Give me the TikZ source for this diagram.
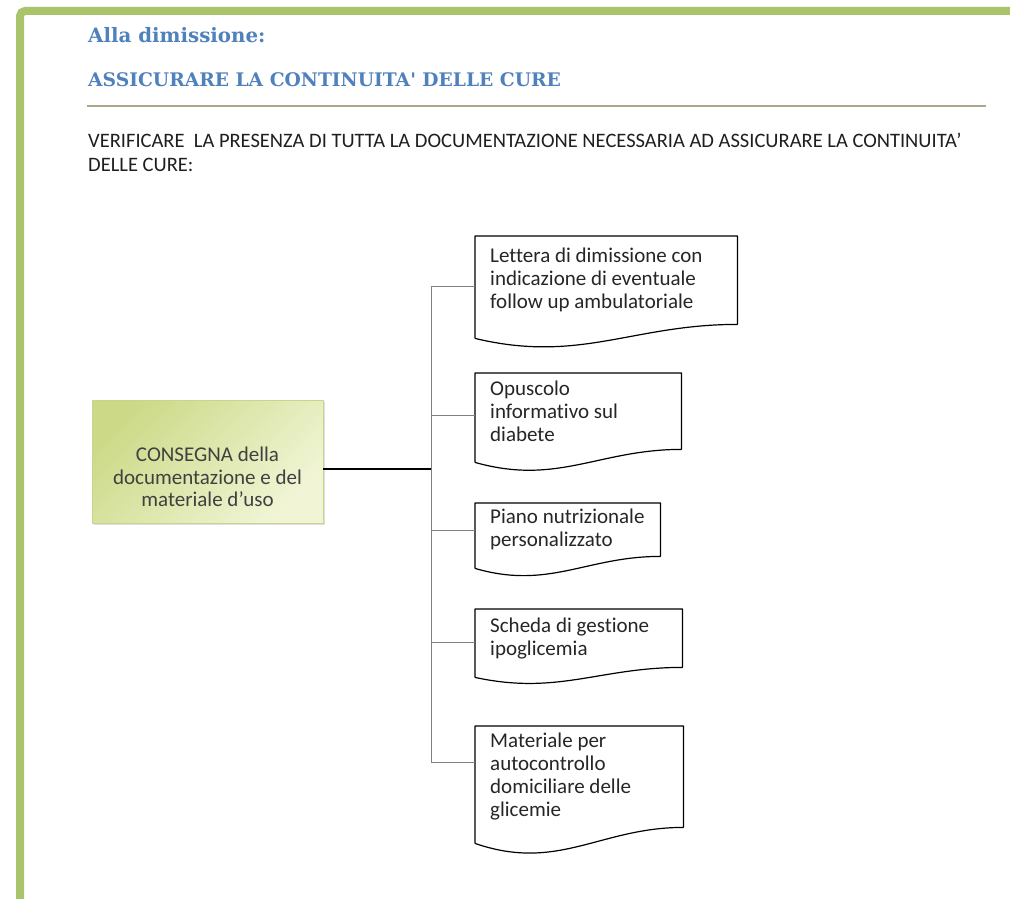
\documentclass[tikz,border=0pt]{standalone}
\usepackage{fontspec}
\setmainfont{Carlito}[Ligatures={TeX,NoCommon}]
\newfontfamily\headfont{DejaVu Serif}
\usetikzlibrary{calc,shadows}
\definecolor{framegreen}{RGB}{170,196,108}
\definecolor{headblue}{RGB}{79,129,189}
\definecolor{rulecol}{RGB}{174,166,138}
\definecolor{boxtop}{RGB}{204,218,136}
\definecolor{boxbot}{RGB}{241,245,214}
\definecolor{boxedge}{RGB}{200,214,140}
\definecolor{txtgray}{RGB}{38,38,38}
\definecolor{conngray}{RGB}{128,128,128}
\tikzset{
  headtxt/.style={anchor=base west, inner sep=0pt, font=\headfont\bfseries\fontsize{19.8}{24}\selectfont, text=headblue},
  bodytxt/.style={anchor=base west, inner sep=0pt, font=\fontsize{20.5}{24}\selectfont, text=black!88},
  docbox/.style={rectangle, anchor=north west, inner xsep=0pt, inner ysep=0pt, align=flush left,
    execute at begin node={\leftskip=15pt}, font=\fontsize{21}{23}\selectfont, text=txtgray},
  docline/.style={draw=black, line width=1.2pt, line join=round},
  greenbox/.style={rectangle, draw=boxedge, line width=0.6pt, top color=boxtop, bottom color=boxbot,
    shading angle=45, drop shadow={shadow xshift=2pt, shadow yshift=-2pt, opacity=0.25}},
  boxtxt/.style={align=center, inner sep=0pt, font=\fontsize{21}{22.5}\selectfont, text=black!75},
  mainconn/.style={draw=black, line width=1.2pt},
  branchconn/.style={draw=conngray, line width=0.9pt},
}
\newcommand\docpath[2]{%
  \draw[docline] let \p1=(#1.south west), \p2=(#1.south east) in
    (\x1,{\y1-#2pt}) -- (#1.north west) -- (#1.north east) -- (\p2)
    .. controls ({\x1+0.6*(\x2-\x1)},\y2) and ({\x1+0.4*(\x2-\x1)},{\y2-2.8*#2pt}) .. (\x1,{\y1-#2pt});}
\begin{document}
\begin{tikzpicture}[x=1pt,y=-1pt]
\useasboundingbox (0,0) rectangle (1010,899);
\fill[white] (0,0) rectangle (1010,899);
% frame
\draw[framegreen, line width=8pt, rounded corners=5pt] (20,915) -- (20,11) -- (1025,11);
% headings
\node[headtxt] (h1) at (88,43) {Alla dimissione:};
\node[headtxt, font=\headfont\bfseries\fontsize{18.7}{24}\selectfont] (h2) at (88,87) {ASSICURARE LA CONTINUITA' DELLE CURE};
\draw[rulecol, line width=2.6pt] (87,106) -- (986,106);
\node[bodytxt] (v1) at (88,147) {VERIFICARE\ \ LA PRESENZA DI TUTTA LA DOCUMENTAZIONE NECESSARIA AD ASSICURARE LA CONTINUITA’};
\node[bodytxt] (v2) at (88,171) {DELLE CURE:};
% main box
\node[greenbox, minimum width=231pt, minimum height=123pt] (box) at (207.5,461.5) {};
\node[boxtxt] (boxlabel) at (207.5,477) {CONSEGNA della\\documentazione e del\\materiale d’uso};
% documents
\node[docbox, text width=262pt, minimum height=88pt] (d1) at (475,236) {Lettera di dimissione con\\indicazione di eventuale\\follow up ambulatoriale};
\node[docbox, text width=206pt, minimum height=76pt] (d2) at (475,373) {Opuscolo\\informativo sul\\diabete};
\node[docbox, text width=185pt, minimum height=53pt] (d3) at (475,503) {Piano nutrizionale\\personalizzato};
\node[docbox, text width=207pt, minimum height=58pt] (d4) at (475,609) {Scheda di gestione\\ipoglicemia};
\node[docbox, text width=208pt, minimum height=101pt] (d5) at (475,726) {Materiale per\\autocontrollo\\domiciliare delle\\glicemie};
\docpath{d1}{14}
\docpath{d2}{13}
\docpath{d3}{12}
\docpath{d4}{10}
\docpath{d5}{16}
% connectors
\coordinate (c0) at (431,469);
\coordinate (t1) at (431,286);
\coordinate (t2) at (431,415);
\coordinate (t3) at (431,530);
\coordinate (t4) at (431,642);
\coordinate (t5) at (431,762);
\draw[branchconn] (t1) -- (t5);
\draw[mainconn] (box.east |- c0) -- (c0);
\draw[branchconn] (t1) -- (t1 -| d1.west);
\draw[branchconn] (t2) -- (t2 -| d2.west);
\draw[branchconn] (t3) -- (t3 -| d3.west);
\draw[branchconn] (t4) -- (t4 -| d4.west);
\draw[branchconn] (t5) -- (t5 -| d5.west);
\end{tikzpicture}
\end{document}
